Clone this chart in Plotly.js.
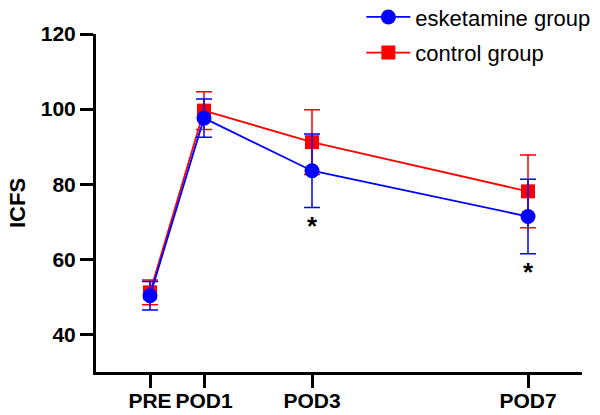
<!DOCTYPE html>
<html>
<head>
<meta charset="utf-8">
<script src="https://cdn.plot.ly/plotly-3.0.1.min.js"></script>
<style>html,body{margin:0;padding:0;background:#fff;}#chart{width:600px;height:415px;}</style>
</head>
<body>
<div id="chart"></div>
<script>
// Time points (days after surgery; PRE = 0)
const timeDays = [0, 1, 3, 7];
const tickLabels = ["PRE", "POD1", "POD3", "POD7"];

// esketamine group (mean ± SD)
const esketamineMean = [50.3, 97.6, 83.6, 71.4];
const esketamineSD   = [3.8, 5.1, 9.8, 9.9];

// control group (mean ± SD)
const controlMean = [51.2, 99.6, 91.2, 78.1];
const controlSD   = [3.3, 5.0, 8.6, 9.7];

// significance markers (time points with *)
const sigDays = [3, 7];
const sigLabel = "*";

const BLUE = "#0000ff", RED = "#ff0000";

const control = {
  x: timeDays, y: controlMean, name: "control group", type: "scatter", mode: "lines+markers",
  line: {color: RED, width: 1.8},
  marker: {symbol: "square", size: 14, color: RED},
  error_y: {type: "data", array: controlSD, visible: true, color: RED, thickness: 1.5, width: 8},
  legendrank: 2, legendgroup: "c"
};
const esk = {
  x: timeDays, y: esketamineMean, name: "esketamine group", type: "scatter", mode: "lines+markers",
  line: {color: BLUE, width: 1.8},
  marker: {symbol: "circle", size: 15, color: BLUE},
  error_y: {type: "data", array: esketamineSD, visible: true, color: BLUE, thickness: 1.5, width: 8},
  legendrank: 1, legendgroup: "e"
};

const annotations = sigDays.map(d => {
  const i = timeDays.indexOf(d);
  return {
    x: d, y: esketamineMean[i] - esketamineSD[i], xref: "x", yref: "y",
    text: sigLabel, showarrow: false, yanchor: "top", yshift: -1,
    font: {family: "Liberation Sans, Arial, sans-serif", size: 26, color: "#000", weight: "bold"}
  };
});

const layout = {
  width: 600, height: 415,
  margin: {l: 96, r: 18, t: 34, b: 43, autoexpand: false},
  paper_bgcolor: "#fff", plot_bgcolor: "#fff",
  font: {family: "Liberation Sans, Arial, sans-serif", color: "#000"},
  showlegend: true,
  legend: {
    x: 0.546, y: 1.112, xanchor: "left", yanchor: "top",
    font: {size: 22, color: "#000"}, bgcolor: "rgba(0,0,0,0)",
    itemwidth: 44, tracegroupgap: 4
  },
  xaxis: {
    range: [-1, 8], tickvals: timeDays, ticktext: tickLabels,
    showline: true, linecolor: "#000", linewidth: 3, mirror: false,
    ticks: "outside", ticklen: 13, tickwidth: 3, tickcolor: "#000",
    showgrid: false, zeroline: false, ticklabelstandoff: -5,
    tickfont: {size: 21, weight: "bold", color: "#000"}
  },
  yaxis: {
    range: [30, 120], tickvals: [40, 60, 80, 100, 120],
    showline: true, linecolor: "#000", linewidth: 3,
    ticks: "outside", ticklen: 13, tickwidth: 3, tickcolor: "#000",
    showgrid: false, zeroline: false,
    tickfont: {size: 21, weight: "bold", color: "#000"},
    title: {text: "ICFS", font: {size: 22, weight: "bold", color: "#000"}, standoff: 10}
  },
  annotations: annotations
};

Plotly.newPlot("chart", [control, esk], layout, {displayModeBar: false, staticPlot: true});
</script>
</body>
</html>
